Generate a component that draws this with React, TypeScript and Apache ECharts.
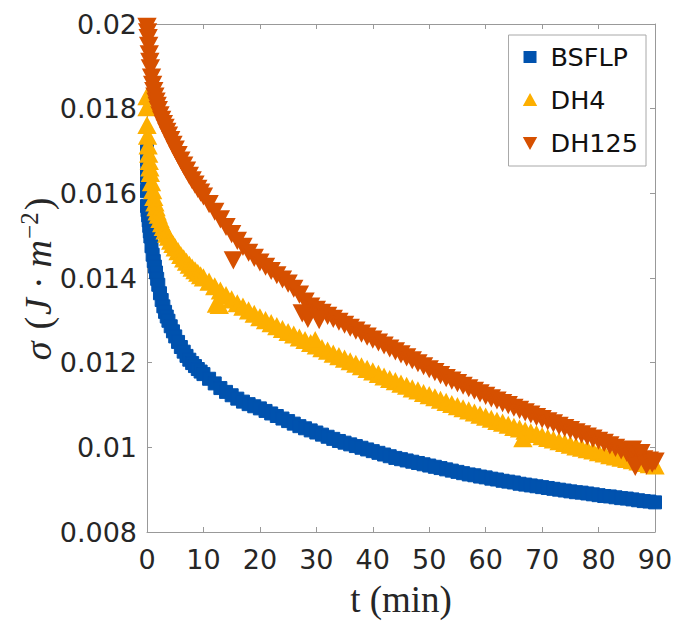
import React, { useEffect, useRef } from "react";
import * as echarts from "echarts";

// Time grid (min)
const earlyTimes = [0, 0.1, 0.2, 0.3, 0.4, 0.5, 0.6, 0.8, 1.0, 1.2, 1.4, 1.6, 1.8, 2.0, 2.3, 2.6, 2.9, 3.2, 3.5, 3.8, 4.2, 4.6, 5.0, 5.5, 6.0, 6.5, 7.0, 7.5, 8.0, 8.5, 9.0, 9.5];
const minuteTimes = Array.from({ length: 81 }, (_, i) => 10 + i);

// BSFLP
const bsflpEarly = [0.01570, 0.01560, 0.01548, 0.01536, 0.01523, 0.01510, 0.01498, 0.01475, 0.01455, 0.01440, 0.01427, 0.01413, 0.01398, 0.01384, 0.01364, 0.01348, 0.01333, 0.01320, 0.01309, 0.01299, 0.01286, 0.01274, 0.01262, 0.01249, 0.01237, 0.01226, 0.01216, 0.01207, 0.01199, 0.01192, 0.01185, 0.01179];
const bsflpMinute = [
  0.01173, 0.01162, 0.01151, 0.01140, 0.01131, 0.01123, 0.01115, 0.01108, 0.01102, 0.01097,
  0.01092, 0.01086, 0.01080, 0.01074, 0.01068, 0.01062, 0.01056, 0.01050, 0.01045, 0.01040,
  0.01035, 0.01030, 0.01025, 0.01020, 0.01015, 0.01011, 0.01007, 0.01003, 0.00999, 0.00995,
  0.00991, 0.00987, 0.00983, 0.00979, 0.00975, 0.00972, 0.00969, 0.00966, 0.00963, 0.00960,
  0.00957, 0.00954, 0.00951, 0.00948, 0.00945, 0.00942, 0.00939, 0.00936, 0.00934, 0.00931,
  0.00929, 0.00926, 0.00924, 0.00921, 0.00919, 0.00917, 0.00914, 0.00912, 0.00910, 0.00908,
  0.00906, 0.00904, 0.00902, 0.00900, 0.00898, 0.00896, 0.00894, 0.00893, 0.00891, 0.00889,
  0.00887, 0.00885, 0.00884, 0.00882, 0.00880, 0.00879, 0.00877, 0.00875, 0.00873, 0.00872,
  0.00870,
];
const bsflpExtra = [[0, 0.0170], [0, 0.0168], [0.05, 0.0166], [0, 0.0164], [0.05, 0.0162], [0, 0.01605]];

// DH4
const dh4Early = [0.01760, 0.01735, 0.01712, 0.01692, 0.01675, 0.01660, 0.01647, 0.01625, 0.01606, 0.01590, 0.01577, 0.01566, 0.01556, 0.01548, 0.01538, 0.01528, 0.01519, 0.01511, 0.01503, 0.01496, 0.01487, 0.01479, 0.01471, 0.01462, 0.01453, 0.01445, 0.01437, 0.01430, 0.01423, 0.01417, 0.01411, 0.01405];
const dh4Minute = [
  0.01400, 0.01390, 0.01379, 0.01369, 0.01358, 0.01348, 0.01339, 0.01331, 0.01322, 0.01314,
  0.01306, 0.01299, 0.01292, 0.01285, 0.01278, 0.01271, 0.01265, 0.01258, 0.01252, 0.01245,
  0.01239, 0.01233, 0.01227, 0.01220, 0.01214, 0.01208, 0.01202, 0.01196, 0.01190, 0.01184,
  0.01178, 0.01172, 0.01166, 0.01160, 0.01155, 0.01149, 0.01144, 0.01138, 0.01133, 0.01127,
  0.01122, 0.01117, 0.01111, 0.01106, 0.01101, 0.01096, 0.01091, 0.01086, 0.01081, 0.01076,
  0.01071, 0.01066, 0.01061, 0.01057, 0.01052, 0.01047, 0.01043, 0.01038, 0.01034, 0.01030,
  0.01025, 0.01021, 0.01017, 0.01013, 0.01009, 0.01005, 0.01001, 0.00998, 0.00994, 0.00991,
  0.00987, 0.00984, 0.00980, 0.00977, 0.00974, 0.00971, 0.00968, 0.00965, 0.00962, 0.00959,
  0.00956,
];
const dh4Extra = [[0, 0.01828], [0, 0.01802], [12.3, 0.01338], [12.8, 0.01335], [29.8, 0.01252], [66.6, 0.01020]];

// DH125
const dh125Early = [0.01995, 0.01982, 0.01968, 0.01950, 0.01930, 0.01912, 0.01897, 0.01875, 0.01858, 0.01843, 0.01830, 0.01818, 0.01808, 0.01798, 0.01786, 0.01775, 0.01765, 0.01756, 0.01747, 0.01738, 0.01727, 0.01716, 0.01705, 0.01692, 0.01679, 0.01667, 0.01655, 0.01643, 0.01632, 0.01622, 0.01612, 0.01603];
const dh125Minute = [
  0.01594, 0.01576, 0.01558, 0.01540, 0.01522, 0.01505, 0.01489, 0.01475, 0.01461, 0.01449,
  0.01438, 0.01428, 0.01418, 0.01408, 0.01398, 0.01388, 0.01376, 0.01362, 0.01346, 0.01334,
  0.01326, 0.01319, 0.01312, 0.01305, 0.01298, 0.01291, 0.01284, 0.01277, 0.01270, 0.01263,
  0.01256, 0.01249, 0.01242, 0.01235, 0.01228, 0.01221, 0.01214, 0.01207, 0.01200, 0.01193,
  0.01186, 0.01179, 0.01172, 0.01165, 0.01159, 0.01153, 0.01147, 0.01141, 0.01135, 0.01129,
  0.01123, 0.01117, 0.01112, 0.01106, 0.01101, 0.01095, 0.01090, 0.01084, 0.01079, 0.01073,
  0.01068, 0.01063, 0.01058, 0.01052, 0.01047, 0.01042, 0.01037, 0.01032, 0.01027, 0.01022,
  0.01017, 0.01012, 0.01006, 0.01000, 0.00994, 0.00988, 0.00982, 0.00977, 0.00973, 0.00970,
  0.00968,
];
const dh125Extra = [[15.3, 0.01443], [27.5, 0.01318], [28.5, 0.01305], [30.5, 0.01302], [86, 0.00996], [86.5, 0.00955], [87.5, 0.00988], [88.5, 0.00958], [89.5, 0.00963]];

const seriesNames = ["BSFLP", "DH4", "DH125"];
const seriesColors = ["#0052AE", "#FDAF00", "#D65000"];

const xMin = 0, xMax = 90, xStep = 10;
const yMin = 0.008, yMax = 0.02, yStep = 0.002;

function build(early: number[], minute: number[], extra: number[][]) {
  return earlyTimes
    .map((t, i) => [t, early[i]])
    .concat(minuteTimes.map((t, i) => [t, minute[i]]))
    .concat(extra);
}

const AXIS_COLOR = "#999999";
const TEXT_COLOR = "#262626";

export default function App() {
  const ref = useRef<HTMLDivElement>(null);
  useEffect(() => {
    if (!ref.current) return;
    const chart = echarts.init(ref.current, null, { renderer: "svg" });
    const baseAxis = {
      type: "value" as const,
      axisLine: { show: true, onZero: false, lineStyle: { color: AXIS_COLOR, width: 1 } },
      axisTick: { show: true, inside: true, length: 5, lineStyle: { color: AXIS_COLOR } },
      splitLine: { show: false },
    };
    const labelStyle = { fontFamily: "DejaVu Sans", fontSize: 27, color: TEXT_COLOR };
    const serifI = { fontFamily: "Liberation Serif", fontStyle: "italic", fontSize: 38, lineHeight: 42, fill: TEXT_COLOR };
    const serifN = { fontFamily: "Liberation Serif", fontSize: 38, lineHeight: 42, fill: TEXT_COLOR };
    chart.setOption({
      animation: false,
      backgroundColor: "#ffffff",
      grid: { left: 147, top: 24, width: 508, height: 508 },
      legend: {
        orient: "vertical",
        right: 31,
        top: 35,
        padding: [7, 8, 8, 15],
        itemGap: 13,
        itemWidth: 11,
        itemHeight: 10,
        borderColor: "#a8a8a8",
        borderWidth: 1,
        backgroundColor: "#ffffff",
        textStyle: { fontFamily: "DejaVu Sans", fontSize: 25.5, color: "#111", lineHeight: 30, padding: [0, 0, 0, 10] },
        data: [
          { name: seriesNames[0], icon: "rect" },
          { name: seriesNames[1], icon: "triangle" },
          { name: seriesNames[2], icon: "path://M0,0L10,0L5,9Z" },
        ],
      },
      xAxis: [
        {
          ...baseAxis,
          min: xMin, max: xMax, interval: xStep,
          position: "bottom",
          axisLabel: { ...labelStyle, margin: 14 },
        },
        {
          ...baseAxis,
          min: xMin, max: xMax, interval: xStep,
          position: "top",
          axisLabel: { show: false },
        },
      ],
      yAxis: [
        {
          ...baseAxis,
          min: yMin, max: yMax, interval: yStep,
          position: "left",
          axisLabel: { ...labelStyle, margin: 10 },
        },
        {
          ...baseAxis,
          min: yMin, max: yMax, interval: yStep,
          position: "right",
          axisLabel: { show: false },
        },
      ],
      graphic: [
        {
          type: "text",
          x: 401,
          y: 599,
          style: {
            text: "t (min)",
            font: "37px 'Liberation Serif'",
            fill: TEXT_COLOR,
            align: "center",
            verticalAlign: "middle",
          },
        },
        {
          type: "text",
          x: 38,
          y: 279,
          rotation: Math.PI / 2,
          style: {
            text: "{sig|σ}{lp|(}{i|J}{dot|·}{i|m}{s|−2}{n|)}",
            align: "center",
            verticalAlign: "middle",
            fill: TEXT_COLOR,
            rich: {
              sig: { ...serifI, padding: [0, 12, 0, 0] },
              lp: { ...serifN, padding: [0, 2, 0, 0] },
              i: serifI,
              dot: { ...serifN, padding: [0, 9, 0, 9] },
              n: serifN,
              s: { fontFamily: "Liberation Serif", fontSize: 25, lineHeight: 25, verticalAlign: "top", fill: TEXT_COLOR, padding: [0, 2, 0, 1] },
            },
          },
        },
      ],
      series: [
        {
          name: seriesNames[0],
          type: "scatter",
          clip: false,
          symbol: "rect",
          symbolSize: 13,
          itemStyle: { color: seriesColors[0], opacity: 1, borderColor: seriesColors[0], borderWidth: 1 },
          data: build(bsflpEarly, bsflpMinute, bsflpExtra),
        },
        {
          name: seriesNames[1],
          type: "scatter",
          clip: false,
          symbol: "triangle",
          symbolSize: [16, 15],
          itemStyle: { color: seriesColors[1], opacity: 1, borderColor: seriesColors[1], borderWidth: 2 },
          data: build(dh4Early, dh4Minute, dh4Extra),
        },
        {
          name: seriesNames[2],
          type: "scatter",
          clip: false,
          symbol: "triangle",
          symbolRotate: 180,
          symbolSize: [16, 15],
          itemStyle: { color: seriesColors[2], opacity: 1, borderColor: seriesColors[2], borderWidth: 2 },
          data: build(dh125Early, dh125Minute, dh125Extra),
        },
      ],
    });
    return () => chart.dispose();
  }, []);
  return <div ref={ref} style={{ position: "absolute", left: 0, top: 0, width: 677, height: 626 }} />;
}
